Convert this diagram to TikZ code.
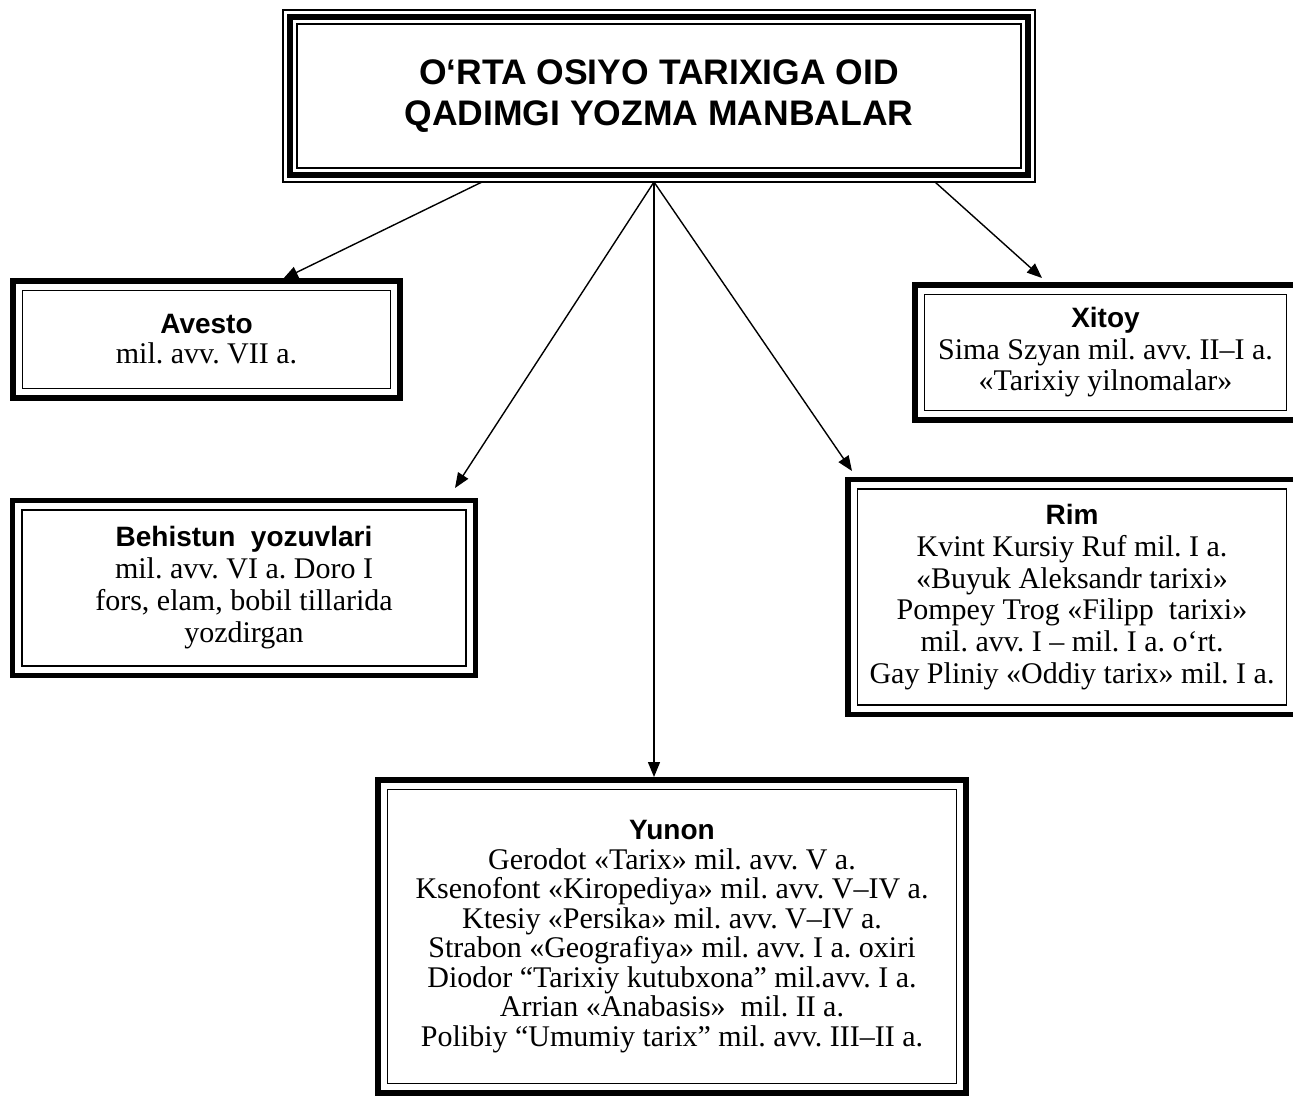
\documentclass[tikz,border=0pt]{standalone}
\usepackage{fontspec}
\setmainfont{Liberation Serif}
\setsansfont{Liberation Sans}
\usetikzlibrary{arrows.meta}
\frenchspacing
\newcommand{\hd}{\fontsize{28}{30}\selectfont\sffamily\bfseries}
\newcommand{\bodyf}{\fontsize{30}{30}\selectfont\rmfamily}
\tikzset{
  bx/.style={draw, line width=5.5pt, outer sep=0pt, inner sep=0pt, align=center, font=\bodyf,
    append after command={\pgfextra{\draw[line width=1.3pt]
      ([shift={(9.5pt,-9.5pt)}]\tikzlastnode.north west) rectangle
      ([shift={(-9.5pt,9.5pt)}]\tikzlastnode.south east);}}},
  tbx/.style={draw, line width=6pt, outer sep=0pt, inner sep=0pt, align=center,
    font=\fontsize{35.5}{41}\selectfont\sffamily\bfseries,
    append after command={\pgfextra{\draw[line width=1.3pt]
      ([shift={(7pt,-7pt)}]\tikzlastnode.north west) rectangle
      ([shift={(-7pt,7pt)}]\tikzlastnode.south east);
      \draw[line width=1.3pt]
      ([shift={(-7pt,7pt)}]\tikzlastnode.north west) rectangle
      ([shift={(7pt,-7pt)}]\tikzlastnode.south east);}}},
  arr/.style={line width=1.4pt, -{Triangle[length=15pt,width=12pt]}}
}
\begin{document}
\begin{tikzpicture}[x=1pt,y=-1pt]
\useasboundingbox[fill=white] (0,0) rectangle (1293,1098);

\node[tbx, minimum width=738pt, minimum height=158pt] (title) at (659,96)
  {O‘RTA OSIYO TARIXIGA OID\\QADIMGI YOZMA MANBALAR};

\node[bx, minimum width=387pt, minimum height=117pt] (avesto) at (206.5,339.5)
  {{\hd Avesto}\\mil. avv. VII a.};

\node[bx, minimum width=381pt, minimum height=135pt, font=\fontsize{30}{31.5}\selectfont] (xitoy) at (1105.5,352.5)
  {{\fontsize{28}{31.5}\selectfont\sffamily\bfseries Xitoy}\\Sima Szyan mil. avv. II–I a.\\«Tarixiy yilnomalar»};

\node[bx, minimum width=463pt, minimum height=175pt, font=\fontsize{30}{32}\selectfont] (behistun) at (244,588)
  {{\fontsize{28}{32}\selectfont\sffamily\bfseries Behistun\ \ yozuvlari}\\mil. avv. VI a. Doro I\\fors, elam, bobil tillarida\\yozdirgan};

\node[bx, minimum width=448pt, minimum height=235pt, font=\fontsize{30}{31.8}\selectfont] (rim) at (1072,597)
  {{\fontsize{28}{31.8}\selectfont\sffamily\bfseries Rim}\\Kvint Kursiy Ruf mil. I a.\\«Buyuk Aleksandr tarixi»\\Pompey Trog «Filipp\ \ tarixi»\\mil. avv. I – mil. I a. o‘rt.\\Gay Pliniy «Oddiy tarix» mil. I a.};

\node[bx, minimum width=588pt, minimum height=313pt, font=\fontsize{30}{29.5}\selectfont] (yunon) at (672,936.5)
  {{\fontsize{28}{29.5}\selectfont\sffamily\bfseries Yunon}\\Gerodot «Tarix» mil. avv. V a.\\Ksenofont «Kiropediya» mil. avv. V–IV a.\\Ktesiy «Persika» mil. avv. V–IV a.\\Strabon «Geografiya» mil. avv. I a. oxiri\\Diodor “Tarixiy kutubxona” mil.avv. I a.\\Arrian «Anabasis»\ \ mil. II a.\\Polibiy “Umumiy tarix” mil. avv. III–II a.};

\coordinate (s1) at (482,182);
\coordinate (s2) at (654,182);
\coordinate (s3) at (935,182);
\coordinate (tA) at (283,279);
\coordinate (tB) at (455,488);
\coordinate (tY) at (654,777);
\coordinate (tR) at (852,471);
\coordinate (tX) at (1042,278);

\draw[arr] (s1) -- (tA);
\draw[arr] (s2) -- (tB);
\draw[arr] (s2) -- (tY);
\draw[arr] (s2) -- (tR);
\draw[arr] (s3) -- (tX);
\end{tikzpicture}
\end{document}
